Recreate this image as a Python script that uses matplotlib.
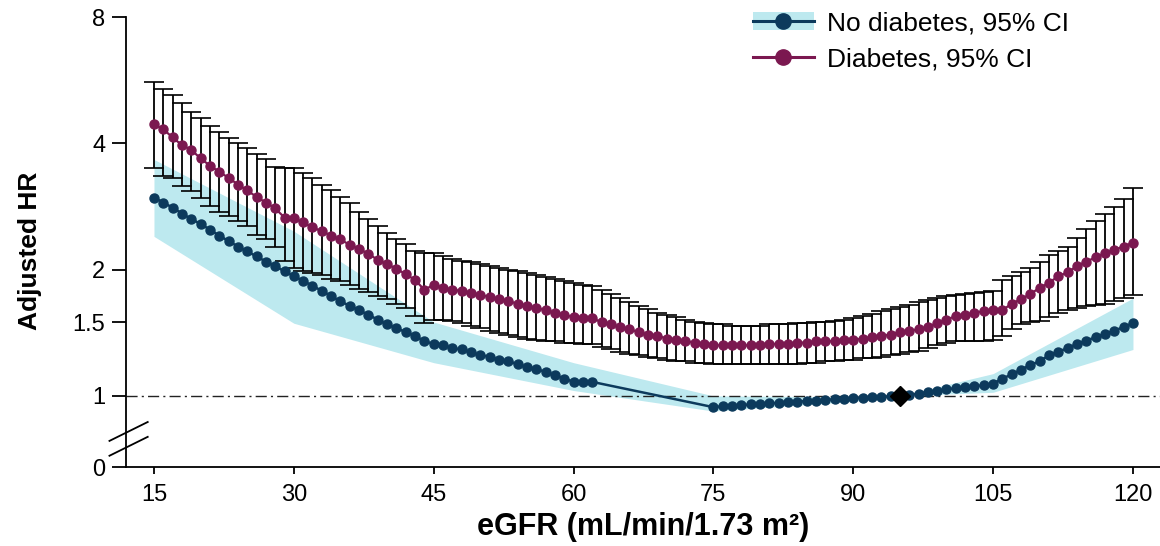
import numpy as np
import matplotlib
matplotlib.use('Agg')
import matplotlib.pyplot as plt
from matplotlib.lines import Line2D
from matplotlib.patches import Patch

plt.rcParams['font.family'] = ['Liberation Sans', 'DejaVu Sans']

# ---- data ----
# no diabetes: dots at each eGFR from 15 to 62 and from 75 to 120
nd_egfr = list(range(15, 63)) + list(range(75, 121))
nd_hr = [2.97, 2.89, 2.81, 2.72, 2.64, 2.57, 2.49, 2.41, 2.34, 2.27,
         2.21, 2.15, 2.09, 2.04, 1.98, 1.93, 1.88, 1.83, 1.78, 1.73,
         1.68, 1.64, 1.60, 1.56, 1.52, 1.48, 1.45, 1.42, 1.39, 1.35,
         1.33, 1.32, 1.30, 1.29, 1.27, 1.25, 1.24, 1.22, 1.21, 1.19,
         1.17, 1.16, 1.14, 1.12, 1.10, 1.08, 1.08, 1.08,
         0.940, 0.945, 0.948, 0.951, 0.954, 0.957, 0.960, 0.963, 0.966, 0.969,
         0.972, 0.975, 0.978, 0.982, 0.985, 0.988, 0.990, 0.992, 0.995, 0.998,
         1.000, 1.006, 1.013, 1.020, 1.028, 1.036, 1.044, 1.050, 1.055, 1.060,
         1.070, 1.100, 1.125, 1.155, 1.185, 1.210, 1.250, 1.275, 1.300, 1.330,
         1.355, 1.380, 1.405, 1.430, 1.460, 1.490]

# no diabetes 95% CI band (corner points of the shaded area)
band_egfr = [15, 30, 45, 60, 75, 90, 95, 105, 120]
band_lo = [2.40, 1.49, 1.20, 1.03, 0.92, 0.97, 1.00, 1.02, 1.29]
band_hi = [3.66, 2.47, 1.50, 1.20, 1.00, 0.995, 1.00, 1.13, 1.71]

# diabetes: dots with 95% CI error bars, eGFR 15..120
d_egfr = list(range(15, 121))
d_hr = [4.44, 4.32, 4.13, 3.96, 3.86, 3.68, 3.54, 3.42, 3.31, 3.19,
        3.09, 2.98, 2.89, 2.80, 2.66, 2.65, 2.59, 2.52, 2.47, 2.41,
        2.36, 2.29, 2.24, 2.18, 2.11, 2.06, 2.01, 1.95, 1.89, 1.79,
        1.84, 1.81, 1.79, 1.78, 1.76, 1.74, 1.72, 1.70, 1.68, 1.66,
        1.64, 1.62, 1.60, 1.58, 1.56, 1.54, 1.53, 1.53, 1.50, 1.48,
        1.46, 1.44, 1.42, 1.40, 1.39, 1.37, 1.36, 1.35, 1.34, 1.33,
        1.32, 1.32, 1.32, 1.32, 1.32, 1.32, 1.33, 1.33, 1.33, 1.34,
        1.34, 1.35, 1.35, 1.35, 1.36, 1.36, 1.37, 1.38, 1.39, 1.40,
        1.42, 1.43, 1.44, 1.46, 1.49, 1.52, 1.55, 1.56, 1.58, 1.59,
        1.60, 1.60, 1.66, 1.70, 1.75, 1.81, 1.86, 1.93, 1.97, 2.04,
        2.09, 2.14, 2.19, 2.23, 2.27, 2.32]
d_hi = [5.60, 5.38, 5.21, 4.99, 4.74, 4.59, 4.40, 4.25, 4.11, 4.00,
        3.89, 3.77, 3.66, 3.52, 3.50, 3.50, 3.40, 3.30, 3.18, 3.10,
        2.98, 2.88, 2.75, 2.64, 2.54, 2.44, 2.37, 2.30, 2.22, 2.19,
        2.19, 2.15, 2.12, 2.10, 2.08, 2.06, 2.04, 2.02, 2.00, 1.98,
        1.96, 1.94, 1.92, 1.90, 1.88, 1.86, 1.84, 1.83, 1.79, 1.75,
        1.71, 1.67, 1.64, 1.61, 1.58, 1.56, 1.54, 1.52, 1.50, 1.49,
        1.48, 1.48, 1.47, 1.47, 1.47, 1.47, 1.48, 1.48, 1.48, 1.49,
        1.49, 1.50, 1.50, 1.51, 1.52, 1.53, 1.55, 1.57, 1.59, 1.61,
        1.63, 1.65, 1.67, 1.69, 1.71, 1.73, 1.74, 1.75, 1.76, 1.77,
        1.78, 1.89, 1.93, 1.97, 2.02, 2.08, 2.17, 2.21, 2.27, 2.38,
        2.50, 2.61, 2.72, 2.82, 2.95, 3.13]
d_lo = [3.50, 3.35, 3.30, 3.17, 3.08, 2.97, 2.84, 2.74, 2.68, 2.61,
        2.54, 2.42, 2.36, 2.26, 2.10, 2.02, 1.98, 1.96, 1.94, 1.90,
        1.88, 1.84, 1.80, 1.77, 1.73, 1.70, 1.66, 1.62, 1.55, 1.49,
        1.52, 1.52, 1.51, 1.49, 1.47, 1.45, 1.43, 1.41, 1.40, 1.38,
        1.37, 1.36, 1.35, 1.35, 1.34, 1.34, 1.33, 1.33, 1.31, 1.29,
        1.27, 1.26, 1.25, 1.24, 1.23, 1.22, 1.21, 1.21, 1.20, 1.20,
        1.19, 1.19, 1.19, 1.19, 1.19, 1.19, 1.19, 1.19, 1.19, 1.19,
        1.20, 1.20, 1.21, 1.21, 1.22, 1.22, 1.23, 1.23, 1.24, 1.25,
        1.26, 1.27, 1.28, 1.30, 1.32, 1.34, 1.35, 1.35, 1.35, 1.35,
        1.36, 1.39, 1.44, 1.48, 1.50, 1.51, 1.54, 1.58, 1.60, 1.62,
        1.64, 1.65, 1.66, 1.68, 1.71, 1.74]

ref_egfr = [95]
ref_hr = [1.0]

x_ticks = [15, 30, 45, 60, 75, 90, 105, 120]
y_ticks = [0, 1, 1.5, 2, 4, 8]
y_ticklabels = ['0', '1', '1.5', '2', '4', '8']

NAVY = '#0c3a5c'
MAROON = '#7b1850'
BAND = '#bde9ef'

# log2 axis above the break, squeezed linear piece down to 0 below it
BREAK_AT = 0.9
ZERO_POS = -0.563


def fwd(v):
    v = np.asarray(v, dtype=float)
    lin = ZERO_POS + v * (np.log2(BREAK_AT) - ZERO_POS) / BREAK_AT
    lg = np.log2(np.where(v > 0, v, 1.0))
    return np.where(v >= BREAK_AT, lg, lin)


def inv(u):
    u = np.asarray(u, dtype=float)
    lin = (u - ZERO_POS) * BREAK_AT / (np.log2(BREAK_AT) - ZERO_POS)
    return np.where(u >= np.log2(BREAK_AT), 2.0 ** u, lin)


fig = plt.figure(figsize=(11.6, 5.46), dpi=100)
ax = fig.add_axes([126 / 1160, 79 / 546, 1034 / 1160, 450 / 546])
ax.set_yscale('function', functions=(fwd, inv))

ax.fill_between(band_egfr, band_lo, band_hi, color=BAND, lw=0, zorder=1)
ax.axhline(1, color='#222222', lw=1.0, dashes=(8, 3, 1.5, 3), zorder=2)

d_hr_a = np.array(d_hr)
ax.errorbar(d_egfr, d_hr, yerr=[d_hr_a - np.array(d_lo), np.array(d_hi) - d_hr_a],
            fmt='none', ecolor='black', elinewidth=1.3, capsize=7.5,
            capthick=1.2, zorder=3)
ax.plot(d_egfr, d_hr, '-o', color=MAROON, lw=1.6, ms=6.5, zorder=4)
ax.plot(nd_egfr, nd_hr, '-o', color=NAVY, lw=1.8, ms=6.5, zorder=5)
ax.plot(ref_egfr, ref_hr, 'D', color='black', ms=10, zorder=6)

ax.set_xlim(12, 122.9)
ax.set_ylim(0, 8)
ax.set_xticks(x_ticks)
ax.set_yticks(y_ticks)
ax.set_yticklabels(y_ticklabels)
ax.yaxis.set_minor_locator(matplotlib.ticker.NullLocator())
ax.xaxis.set_minor_locator(matplotlib.ticker.NullLocator())

for s in ['top', 'right']:
    ax.spines[s].set_visible(False)
for s in ['left', 'bottom']:
    ax.spines[s].set_linewidth(1.3)

ax.tick_params(axis='y', length=10, width=1.3, pad=5, labelsize=17)
ax.tick_params(axis='x', length=5, width=1.3, pad=7, labelsize=17)

ax.set_ylabel('Adjusted HR', fontsize=19, fontweight='bold')
ax.yaxis.set_label_coords(-0.081, 0.48)
ax.set_xlabel('eGFR (mL/min/1.73 m²)', fontsize=22, fontweight='bold')
ax.xaxis.set_label_coords(0.5, -0.10)

# axis break marks
for y0 in (0.025, 0.058):
    ax.plot([-0.016, 0.021], [y0, y0 + 0.042], transform=ax.transAxes,
            color='black', lw=1.3, clip_on=False, zorder=7)

h1 = (Patch(facecolor=BAND, edgecolor='none'),
      Line2D([], [], color=NAVY, marker='o', lw=2.2, ms=11))
h2 = Line2D([], [], color=MAROON, marker='o', lw=2.2, ms=11)
ax.legend([h1, h2], ['No diabetes, 95% CI', 'Diabetes, 95% CI'],
          loc='upper left', bbox_to_anchor=(753 / 1160, 1 - 11 / 546),
          bbox_transform=fig.transFigure, frameon=False, fontsize=19,
          handlelength=2.3, handletextpad=0.5, labelspacing=0.48,
          borderpad=0, borderaxespad=0)

fig.savefig('out.png', dpi=100, facecolor='white')
